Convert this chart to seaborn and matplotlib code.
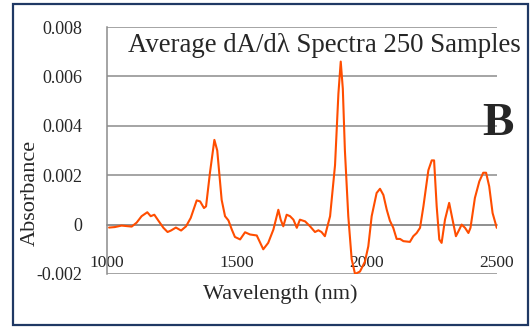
import pandas as pd
import seaborn as sns
import matplotlib.pyplot as plt
from matplotlib.patches import Rectangle

# averaged first-derivative spectrum
wavelength = [1008, 1030, 1056, 1095, 1114, 1133, 1155, 1168, 1182, 1197,
              1217, 1233, 1246, 1265, 1285, 1304, 1322, 1345, 1358, 1373,
              1381, 1396, 1413, 1424, 1441, 1454, 1467, 1480, 1492, 1512,
              1531, 1550, 1576, 1601, 1620, 1640, 1659, 1668, 1678, 1691,
              1704, 1717, 1730, 1742, 1762, 1781, 1800, 1813, 1825, 1838,
              1858, 1877, 1890, 1899, 1907, 1915, 1928, 1941, 1954, 1973,
              1992, 2005, 2018, 2037, 2050, 2063, 2076, 2088, 2101, 2114,
              2127, 2140, 2165, 2178, 2191, 2204, 2217, 2236, 2249, 2258,
              2268, 2278, 2287, 2300, 2316, 2329, 2342, 2355, 2364, 2377,
              2390, 2398, 2415, 2432, 2447, 2458, 2470, 2483, 2499]
dA = [-0.00012, -0.0001, -0.00004, -0.00008, 0.00008, 0.00034, 0.0005, 0.00034, 0.0004, 0.00017,
      -0.00013, -0.0003, -0.00024, -0.00012, -0.00024, -0.00007, 0.00027, 0.00098, 0.00094, 0.00067,
      0.00074, 0.0021, 0.00343, 0.003, 0.001, 0.00034, 0.00017, -0.0002, -0.0005, -0.0006,
      -0.00031, -0.0004, -0.00044, -0.001, -0.00074, -0.0002, 0.0006, 0.0002, -0.00007, 0.0004,
      0.00034, 0.0002, -0.00013, 0.0002, 0.00013, -0.00007, -0.0003, -0.00023, -0.0003, -0.00047,
      0.00034, 0.0024, 0.0053, 0.0066, 0.0055, 0.003, 0.00034, -0.0014, -0.002, -0.0019,
      -0.0015, -0.00088, 0.00034, 0.00128, 0.00145, 0.0012, 0.0006, 0.00016, -0.00013, -0.00058,
      -0.00058, -0.00067, -0.0007, -0.00047, -0.00034, -0.00013, 0.00074, 0.0022, 0.0026, 0.0026,
      0.00074, -0.0006, -0.00074, 0.0002, 0.00088, 0.0002, -0.00047, -0.0002, 0.0, -0.00013,
      -0.00034, -0.00013, 0.00108, 0.00175, 0.0021, 0.0021, 0.00155, 0.00047, -0.00013]

x_ticks = [1000, 1500, 2000, 2500]
y_ticks = [-0.002, 0, 0.002, 0.004, 0.006, 0.008]
y_labels = ['-0.002', '0', '0.002', '0.004', '0.006', '0.008']

sns.set_style('white')
plt.rcParams['font.family'] = ['Liberation Serif', 'DejaVu Serif']

df = pd.DataFrame({'Wavelength (nm)': wavelength, 'Absorbance': dA})

fig = plt.figure(figsize=(5.3, 3.28), dpi=100)
ax = fig.add_axes([107 / 530, 1 - 274 / 328, 390 / 530, 247 / 328])
sns.lineplot(data=df, x='Wavelength (nm)', y='Absorbance', ax=ax,
             color='#ff4d00', linewidth=1.5, zorder=3)

grid_col = '#8c8c8c'
for s in ['top', 'right']:
    ax.spines[s].set_visible(False)
ax.spines['left'].set_color(grid_col)
ax.spines['left'].set_linewidth(1.1)
# x axis crosses at zero (this resets the ticks, so set them afterwards)
ax.spines['bottom'].set_position(('data', 0))
ax.spines['bottom'].set_color(grid_col)
ax.spines['bottom'].set_linewidth(1.1)

ax.set_xlim(1000, 2500)
ax.set_ylim(-0.002, 0.008)
ax.set_yticks(y_ticks)
ax.set_yticklabels(y_labels)
ax.set_xticks(x_ticks)
ax.set_xticklabels([str(t) for t in x_ticks])
ax.yaxis.grid(True, color=grid_col, linewidth=1.1)
ax.set_axisbelow(True)
ax.tick_params(axis='y', direction='out', length=4, width=1.1, color=grid_col,
               pad=14, labelsize=13)
ax.tick_params(axis='x', direction='out', length=4, width=1.1, color=grid_col,
               pad=18, labelsize=12.5)

ax.set_xlabel('')
ax.set_ylabel('')
fig.text(280 / 530, 1 - 294 / 328, 'Wavelength (nm)', fontsize=16, ha='center', va='center')
fig.text(30 / 530, 1 - 193 / 328, 'Absorbance', fontsize=16, rotation=90, ha='center', va='center')
fig.text(128 / 530, 1 - 45 / 328, 'Average dA/dλ Spectra 250 Samples', fontsize=19.3,
         ha='left', va='center')
fig.text(498 / 530, 1 - 124 / 328, 'B', fontsize=34, fontweight='bold', ha='center', va='center')

fig.patches.append(Rectangle((13 / 530, 3 / 328), 515 / 530, 321 / 328, transform=fig.transFigure,
                             fill=False, edgecolor='#1f3864', linewidth=1.6))

fig.savefig('out.png', dpi=100)
